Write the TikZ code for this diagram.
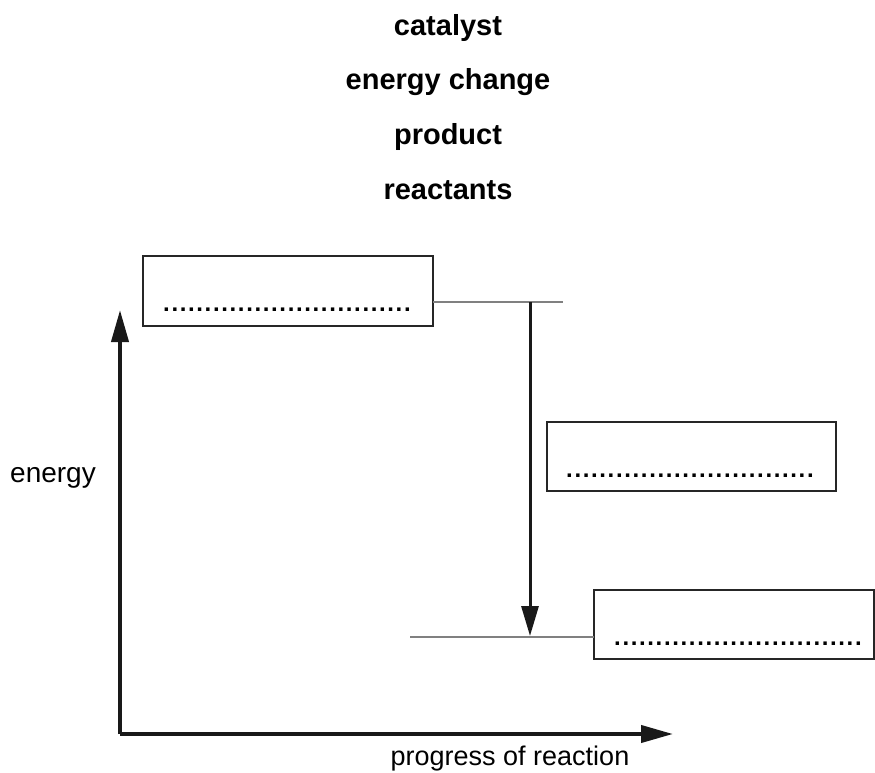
\documentclass[tikz,border=0pt]{standalone}
\usepackage{fontspec}
\setmainfont{Liberation Sans}
\usetikzlibrary{arrows.meta}
\newcommand{\dotrow}{\hbox to 249pt{\xleaders\hbox to 8.3pt{\hss.\hss}\hfill}}
\tikzset{
  title/.style={font=\fontsize{29}{32}\selectfont\bfseries, anchor=base, inner sep=0pt},
  lbl/.style={font=\fontsize{27}{30}\selectfont, inner sep=0pt},
  answerbox/.style={draw=black!85, line width=2pt, fill=white},
  dots/.style={font=\fontsize{24}{26}\selectfont\bfseries, text=black, anchor=base west, inner sep=0pt},
  level/.style={draw=black!50, line width=1.3pt},
  axis/.style={draw=black!90, line width=4pt, -{Triangle[length=32pt,width=17pt]}},
  change/.style={draw=black!90, line width=3pt, -{Triangle[length=30pt,width=17pt]}}
}
\begin{document}
\begin{tikzpicture}[x=1pt,y=-1pt]
\useasboundingbox (0,0) rectangle (875,773);
% word list
\node[title] (t1) at (448,36) {catalyst};
\node[title] (t2) at (448,90) {energy change};
\node[title] (t3) at (448,144) {product};
\node[title] (t4) at (448,199) {reactants};
% axes
\coordinate (origin) at (120,734);
\coordinate (ytip) at (120,310);
\coordinate (xtip) at (673,734);
\draw[axis] (origin) -- (ytip);
\draw[axis] (origin) -- (xtip);
\node[lbl, font=\fontsize{28}{30}\selectfont, anchor=base west] (ylab) at (10,482) {energy};
\node[lbl, anchor=base] (xlab) at (510,765) {progress of reaction};
% boxes
\draw[answerbox] (143,256) rectangle (433,326);
\coordinate (b1e) at (433,302);
\node[dots] (d1) at (162.2,311.5) {\dotrow};
\draw[answerbox] (547,422) rectangle (836,491);
\node[dots] (d2) at (565.2,477.5) {\dotrow};
\draw[answerbox] (594,590) rectangle (874,659);
\coordinate (b3w) at (594,637);
\node[dots] (d3) at (613.2,645.5) {\dotrow};
% energy levels
\coordinate (l1e) at (563,302);
\coordinate (l2s) at (410,637);
\draw[level] (b1e) -- (l1e);
\draw[level] (l2s) -- (b3w);
% energy change arrow
\coordinate (a1) at (530,302);
\coordinate (a2) at (530,636);
\draw[change] (a1) -- (a2);
\end{tikzpicture}
\end{document}
